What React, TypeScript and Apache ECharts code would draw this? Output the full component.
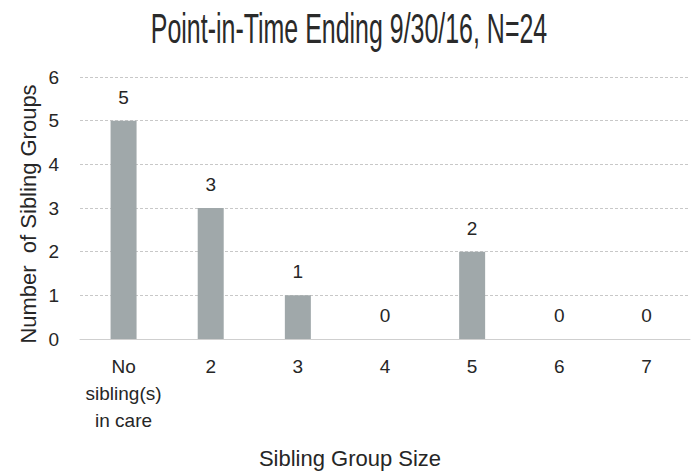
import React, { useEffect, useRef } from "react";
import * as echarts from "echarts";

const categories = ["No\nsibling(s)\nin care", "2", "3", "4", "5", "6", "7"];
const values = [5, 3, 1, 0, 2, 0, 0];
const titleText = "Point-in-Time Ending 9/30/16, N=24";
const xName = "Sibling Group Size";
const yName = "Number  of Sibling Groups";

export default function App() {
  const ref = useRef<HTMLDivElement>(null);
  useEffect(() => {
    const chart = echarts.init(ref.current!, null, { renderer: "svg" });
    const font = "'Liberation Sans', 'Noto Sans', sans-serif";
    const txt = "#262626";
    chart.setOption({
      animation: false,
      backgroundColor: "#ffffff",
      grid: { left: 80, right: 4, top: 77, bottom: 132 },
      xAxis: {
        type: "category",
        data: categories,
        axisLine: { lineStyle: { color: "#cfcfcf", width: 1 } },
        axisTick: { show: false },
        axisLabel: {
          margin: 14,
          fontSize: 19,
          lineHeight: 27,
          color: txt,
          fontFamily: font,
          interval: 0,
        },
      },
      yAxis: {
        type: "value",
        min: 0,
        max: 6,
        interval: 1,
        axisLine: { show: false },
        axisTick: { show: false },
        axisLabel: { fontSize: 19, color: txt, fontFamily: font, margin: 21 },
        splitLine: { lineStyle: { color: "#c8c8c8", type: [3, 2], width: 1 } },
      },
      graphic: [
        {
          type: "text",
          x: 349,
          y: 28,
          scaleX: 0.624,
          scaleY: 1.05,
          style: {
            text: titleText,
            fontSize: 40,
            fill: "#2a2a2a",
            fontFamily: font,
            align: "center",
            verticalAlign: "middle",
          },
        },
        {
          type: "text",
          x: 350,
          y: 458,
          style: {
            text: xName,
            fontSize: 22,
            fill: txt,
            fontFamily: font,
            align: "center",
            verticalAlign: "middle",
          },
        },
        {
          type: "text",
          x: 28,
          y: 214,
          rotation: Math.PI / 2,
          style: {
            text: yName,
            fontSize: 22,
            fill: txt,
            fontFamily: font,
            align: "center",
            verticalAlign: "middle",
          },
        },
      ],
      series: [
        {
          type: "bar",
          data: values,
          barWidth: 26,
          itemStyle: { color: "#a0a8aa" },
          label: {
            show: true,
            position: "top",
            distance: 14,
            fontSize: 19,
            color: txt,
            fontFamily: font,
          },
        },
      ],
    });
    return () => chart.dispose();
  }, []);
  return <div ref={ref} style={{ width: 694, height: 471, position: "fixed", left: 0, top: 0 }} />;
}
